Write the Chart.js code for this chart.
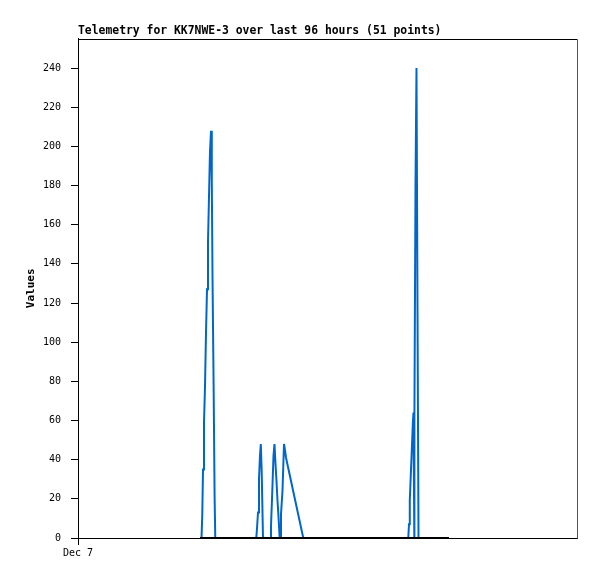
<!DOCTYPE html>
<html>
<head>
<meta charset="utf-8">
<script src="https://cdn.jsdelivr.net/npm/chart.js@4"></script>
<style>
html, body { margin: 0; padding: 0; background: #fff; }
</style>
</head>
<body>
<canvas id="chart" width="597" height="579"></canvas>
<script>
// hours since start of the 96 hour window
const valueHours = [
    23.47,
    23.76, 23.91, 24.05, 24.24, 24.43, 24.62, 24.82, 25.01, 25.20, 25.39, 25.59, 25.74, 25.89, 26.09, 26.28, 26.41,
    34.30, 34.44, 34.63, 34.82, 35.01, 35.17, 35.34, 35.59,
    36.99, 37.13, 37.38, 37.61, 37.80, 37.99, 38.19, 38.38, 38.57, 38.80,
    38.92, 39.05, 39.34, 39.63, 39.82, 40.02, 43.34,
    63.54, 63.68, 63.83, 64.02, 64.22, 64.41, 64.54, 64.70, 64.72, 64.93, 65.12, 65.31, 65.51,
    71.37
];
const values = [
    0,
    0, 12, 35, 59, 77, 104, 127, 151, 174, 197, 208, 182, 130, 78, 21, 0,
    0, 5, 13, 30, 42, 48, 34, 0,
    0, 6, 24, 42, 48, 38, 29, 19, 11, 0,
    0, 12, 24, 48, 45, 41, 0,
    0, 7, 19, 32, 45, 58, 64, 0, 62, 180, 240, 120, 0,
    0
];
const zeroHours = [23.47, 71.37];
const zeroValues = [0, 0];

const xTickValues = [0];
const xTickLabels = ['Dec 7'];
const yTickValues = [0, 20, 40, 60, 80, 100, 120, 140, 160, 180, 200, 220, 240];

const mono = "'DejaVu Sans Mono', monospace";

const frame = {
    id: 'frame',
    afterDraw(chart) {
        const { ctx, chartArea: a } = chart;
        ctx.save();
        ctx.lineWidth = 1;
        ctx.strokeStyle = '#000';
        ctx.beginPath();
        ctx.moveTo(Math.round(a.left) + 0.5, Math.round(a.top) + 0.5);
        ctx.lineTo(Math.round(a.right) + 0.5, Math.round(a.top) + 0.5);
        ctx.stroke();
        ctx.strokeStyle = '#555';
        ctx.beginPath();
        ctx.moveTo(Math.round(a.right) + 0.5, Math.round(a.top) + 0.5);
        ctx.lineTo(Math.round(a.right) + 0.5, Math.round(a.bottom) + 0.5);
        ctx.stroke();
        ctx.restore();
    }
};

new Chart(document.getElementById('chart'), {
    type: 'line',
    data: {
        datasets: [
            {
                label: 'zero',
                data: zeroHours.map((h, i) => ({ x: h, y: zeroValues[i] })),
                borderColor: '#000',
                borderWidth: 2,
                pointRadius: 0,
                fill: false,
                order: 0
            },
            {
                label: 'Values',
                data: valueHours.map((h, i) => ({ x: h, y: values[i] })),
                borderColor: '#0066cc',
                borderWidth: 2,
                pointRadius: 0,
                fill: false,
                tension: 0,
                order: 1
            }
        ]
    },
    options: {
        responsive: false,
        animation: false,
        layout: { padding: { left: 0, right: 20, top: 0, bottom: 0 } },
        plugins: {
            legend: { display: false },
            tooltip: { enabled: false },
            title: {
                display: true,
                text: 'Telemetry for KK7NWE-3 over last 96 hours (51 points)',
                align: 'start',
                fullSize: false,
                color: '#000',
                font: { family: mono, size: 11.4, weight: 'bold', lineHeight: 1.2 },
                padding: { top: 24, bottom: 1 }
            }
        },
        scales: {
            x: {
                type: 'linear',
                min: 0,
                max: 96,
                afterFit: (s) => { s.height = 41; },
                afterBuildTicks: (s) => { s.ticks = xTickValues.map(v => ({ value: v })); },
                ticks: {
                    color: '#000',
                    font: { family: mono, size: 10 },
                    padding: 2,
                    maxRotation: 0,
                    callback: (v, i) => xTickLabels[i]
                },
                grid: { drawOnChartArea: false, drawTicks: true, tickLength: 7, color: '#000' },
                border: { color: '#000', width: 1 }
            },
            y: {
                min: 0,
                max: 255,
                afterFit: (s) => { s.width = 78; },
                afterBuildTicks: (s) => { s.ticks = yTickValues.map(v => ({ value: v })); },
                ticks: {
                    color: '#000',
                    font: { family: mono, size: 10 },
                    padding: 10
                },
                grid: { drawOnChartArea: false, drawTicks: true, tickLength: 7, color: '#000' },
                border: { color: '#000', width: 1 },
                title: {
                    display: true,
                    text: 'Values',
                    color: '#000',
                    font: { family: mono, size: 11, weight: 'bold', lineHeight: 1.2 },
                    padding: { top: 25, bottom: 0 }
                }
            }
        }
    },
    plugins: [frame]
});
</script>
</body>
</html>
